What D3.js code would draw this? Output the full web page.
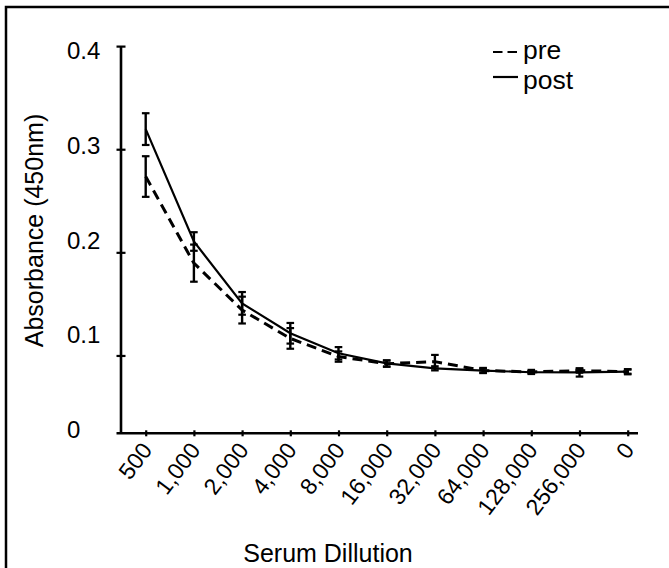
<!DOCTYPE html>
<html>
<head>
<meta charset="utf-8">
<script src="https://cdn.jsdelivr.net/npm/d3@7"></script>
<style>
  body { margin: 0; background: #fff; }
  text { font-family: "Liberation Sans", Arial, Helvetica, sans-serif; fill: #000; }
</style>
</head>
<body>
<div id="chart"></div>
<script>
// data
var dilutions = ["500", "1,000", "2,000", "4,000", "8,000", "16,000", "32,000", "64,000", "128,000", "256,000", "0"];
var preValues  = [0.274, 0.190, 0.1445, 0.117, 0.0994, 0.0925, 0.0945, 0.0859, 0.0845, 0.0858, 0.0847];
var preErrors  = [0.0197, 0.018, 0.013, 0.010, 0.005, 0.003, 0.0065, 0.0025, 0.002, 0.002, 0.0025];
var postValues = [0.320, 0.211, 0.151, 0.122, 0.1026, 0.0928, 0.088, 0.0858, 0.0842, 0.0840, 0.0848];
var postErrors = [0.0154, 0.009, 0.011, 0.010, 0.006, 0.003, 0.002, 0.002, 0.001, 0.004, 0.002];
var yTicks = [0.1, 0.2, 0.3, 0.4];
var yLabels = ["0", "0.1", "0.2", "0.3", "0.4"];
var yLabelValues = [0, 0.1, 0.2, 0.3, 0.4];
var seriesNames = ["pre", "post"];

var width = 669, height = 568;

var svg = d3.select("#chart")
  .append("svg")
    .attr("width", width)
    .attr("height", height);

// frame around the figure (only top and left show)
svg.append("rect")
  .attr("x", 6).attr("y", 7)
  .attr("width", 720).attr("height", 620)
  .attr("fill", "none")
  .attr("stroke", "#000")
  .attr("stroke-width", 2.5);

// scales
var x = d3.scalePoint()
  .domain(dilutions)
  .range([145.7, 627.7]);

var y = d3.scaleLinear()
  .domain([0.025, 0.4])
  .range([433.3, 46.6]);

// tick labels sit evenly spaced, a bit off the tick marks
var yLab = d3.scaleLinear()
  .domain([0, 0.4])
  .range([438, 59]);

// Y axis
svg.append("line")
  .attr("x1", 121).attr("x2", 121)
  .attr("y1", y(0.4)).attr("y2", y.range()[0])
  .attr("stroke", "#000").attr("stroke-width", 2.6);

svg.append("g")
  .selectAll("line")
  .data(yTicks)
  .enter().append("line")
    .attr("x1", 116.5).attr("x2", 125.5)
    .attr("y1", function(d) { return y(d); })
    .attr("y2", function(d) { return y(d); })
    .attr("stroke", "#000").attr("stroke-width", 2.2);

svg.append("g")
  .selectAll("text")
  .data(yLabelValues)
  .enter().append("text")
    .attr("x", 67)
    .attr("y", function(d) { return yLab(d); })
    .attr("font-size", "24px")
    .text(function(d, i) { return yLabels[i]; });

// X axis
svg.append("line")
  .attr("x1", 116.5).attr("x2", 638)
  .attr("y1", y.range()[0]).attr("y2", y.range()[0])
  .attr("stroke", "#000").attr("stroke-width", 2.6);

var xAxis = svg.append("g")
  .attr("transform", "translate(0," + y.range()[0] + ")")
  .call(d3.axisBottom(x).tickSize(3).tickSizeOuter(0).tickPadding(0));

xAxis.select(".domain").remove();
xAxis.selectAll(".tick line")
  .attr("y1", -3)
  .attr("y2", 3)
  .attr("stroke-width", 2.2);
xAxis.selectAll(".tick text")
  .attr("font-size", "23px")
  .attr("font-family", "Liberation Sans, Arial, sans-serif")
  .attr("text-anchor", "end")
  .attr("dy", 0)
  .attr("y", 0)
  .attr("transform", "translate(7,17) rotate(-53)");

// axis titles
svg.append("text")
  .attr("transform", "translate(43,230.5) rotate(-90)")
  .attr("text-anchor", "middle")
  .attr("font-size", "25px")
  .text("Absorbance (450nm)");

svg.append("text")
  .attr("x", 328)
  .attr("y", 562)
  .attr("text-anchor", "middle")
  .attr("font-size", "25px")
  .text("Serum Dillution");

// lines
function rows(vals, errs) {
  return dilutions.map(function(k, i) { return {key: k, value: vals[i], err: errs[i]}; });
}
var series = [
  {name: "pre",  rows: rows(preValues, preErrors),  dash: "10,6", sw: 3},
  {name: "post", rows: rows(postValues, postErrors), dash: null,   sw: 2.2}
];

var line = d3.line()
  .x(function(d) { return x(d.key); })
  .y(function(d) { return y(d.value); });

svg.append("g")
  .selectAll("path")
  .data(series)
  .enter().append("path")
    .attr("d", function(d) { return line(d.rows); })
    .attr("fill", "none")
    .attr("stroke", "#000")
    .attr("stroke-width", function(d) { return d.sw; })
    .attr("stroke-dasharray", function(d) { return d.dash; });

// error bars
series.forEach(function(s) {
  var g = svg.append("g").attr("class", "err-" + s.name);
  var bars = g.selectAll("g")
    .data(s.rows)
    .enter().append("g");
  bars.append("line")
    .attr("x1", function(d) { return x(d.key); })
    .attr("x2", function(d) { return x(d.key); })
    .attr("y1", function(d) { return y(d.value - d.err); })
    .attr("y2", function(d) { return y(d.value + d.err); })
    .attr("stroke", "#000").attr("stroke-width", 2.4);
  [-1, 1].forEach(function(sgn) {
    bars.append("line")
      .attr("x1", function(d) { return x(d.key) - 3.8; })
      .attr("x2", function(d) { return x(d.key) + 3.8; })
      .attr("y1", function(d) { return y(d.value + sgn * d.err); })
      .attr("y2", function(d) { return y(d.value + sgn * d.err); })
      .attr("stroke", "#000").attr("stroke-width", 2.2);
  });
});

// legend
var legend = svg.selectAll(".legend")
  .data(seriesNames)
  .enter().append("g")
    .attr("class", "legend")
    .attr("transform", function(d, i) { return "translate(0," + i * 30 + ")"; });

legend.append("line")
  .attr("x1", 493).attr("x2", function(d, i) { return i == 0 ? 517.5 : 518; })
  .attr("y1", function(d, i) { return i == 0 ? 52 : 47; })
  .attr("y2", function(d, i) { return i == 0 ? 52 : 47; })
  .attr("stroke", "#000")
  .attr("stroke-width", 2.2)
  .attr("stroke-dasharray", function(d, i) { return i == 0 ? "9.5,5" : null; });

legend.append("text")
  .attr("x", 523)
  .attr("y", 59)
  .attr("font-size", "26.5px")
  .text(function(d) { return d; });
</script>
</body>
</html>
